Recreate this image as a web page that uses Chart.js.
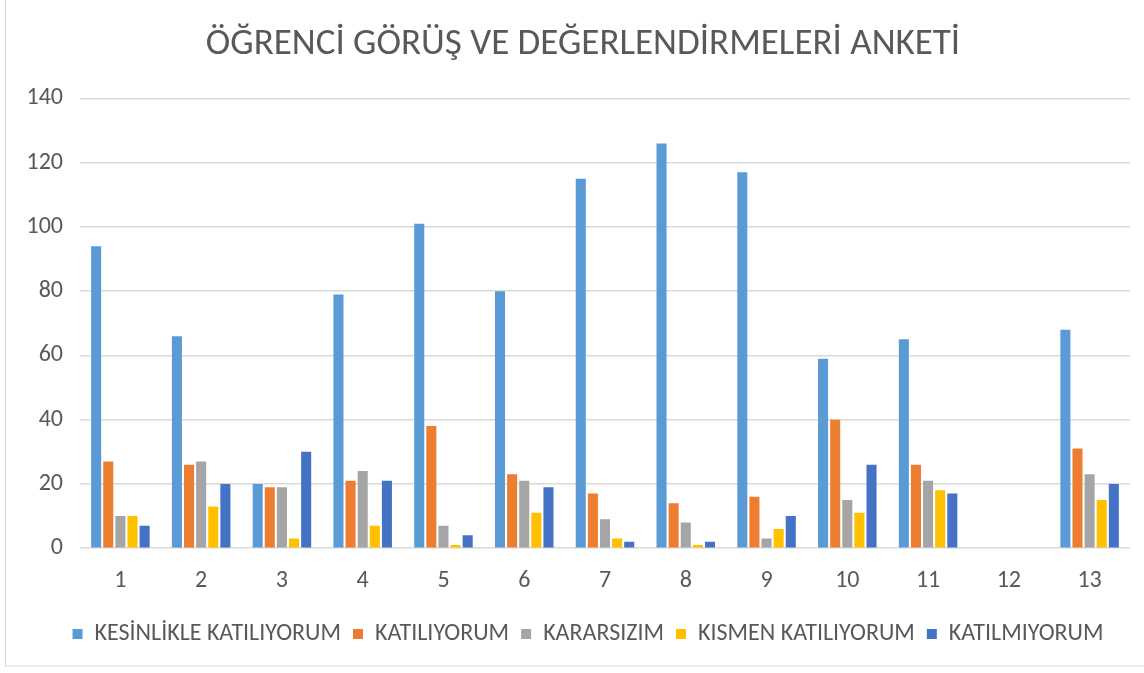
<!DOCTYPE html>
<html>
<head>
<meta charset="utf-8">
<script src="https://cdn.jsdelivr.net/npm/chart.js@4"></script>
<style>
html,body{margin:0;padding:0;background:#fff;}
#wrap{position:relative;width:1144px;height:673px;}
</style>
</head>
<body>
<div id="wrap"><canvas id="c" width="1144" height="673"></canvas></div>
<script>
const categories = ["1","2","3","4","5","6","7","8","9","10","11","12","13"];
const seriesNames = ["KESİNLİKLE KATILIYORUM","KATILIYORUM","KARARSIZIM","KISMEN KATILIYORUM","KATILMIYORUM"];
const kesinlikleKatiliyorum = [94,66,20,79,101,80,115,126,117,59,65,0,68];
const katiliyorum = [27,26,19,21,38,23,17,14,16,40,26,0,31];
const kararsizim = [10,27,19,24,7,21,9,8,3,15,21,0,23];
const kismenKatiliyorum = [10,13,3,7,1,11,3,1,6,11,18,0,15];
const katilmiyorum = [7,20,30,21,4,19,2,2,10,26,17,0,20];
const yTicks = [0,20,40,60,80,100,120,140];
const title = "ÖĞRENCİ GÖRÜŞ VE DEĞERLENDİRMELERİ ANKETİ";

const colors = ["#5B9BD5","#ED7D31","#A5A5A5","#FFC000","#4472C4"];
const values = [kesinlikleKatiliyorum,katiliyorum,kararsizim,kismenKatiliyorum,katilmiyorum];
const FONT = "Carlito, Lato, 'Open Sans', sans-serif";

const framePlugin = {
  id:'frame',
  afterLayout(chart){
    // centre title and legend on the framed chart box, as in the original
    if (chart.titleBlock) chart.titleBlock.left += 36;
    if (chart.legend) chart.legend.left += 46;
  },
  afterDraw(chart){
    const ctx = chart.ctx;
    ctx.save();
    ctx.strokeStyle = '#d9d9d9';
    ctx.lineWidth = 1;
    ctx.strokeRect(5.5, -1, 1150, 667);
    ctx.restore();
  }
};

new Chart(document.getElementById('c'), {
  type:'bar',
  data:{
    labels:categories,
    datasets: seriesNames.map((n,i)=>({
      label:n,
      data:values[i],
      backgroundColor:colors[i],
      borderWidth:0,
      categoryPercentage:0.75,
      barPercentage:0.83
    }))
  },
  options:{
    responsive:false,
    animation:false,
    layout:{padding:{left:0,right:14,top:0,bottom:17}},
    plugins:{
      title:{display:true,text:title,color:'#595959',font:{family:FONT,size:37,weight:'normal'},padding:{top:23,bottom:31}},
      legend:{position:'bottom',labels:{color:'#595959',font:{family:FONT,size:24},boxWidth:10,boxHeight:10,padding:12}},
      tooltip:{enabled:false}
    },
    scales:{
      x:{
        grid:{display:false,drawTicks:false},
        border:{display:false},
        ticks:{color:'#595959',font:{family:FONT,size:24},padding:18},
        afterFit(scale){scale.height -= 3;}
      },
      y:{
        min:0,max:140,
        afterBuildTicks(scale){scale.ticks = yTicks.map(v=>({value:v}));},
        afterFit(scale){scale.width = 80;},
        grid:{color:'#d9d9d9',lineWidth:1.6,drawTicks:false},
        border:{display:false},
        ticks:{color:'#595959',font:{family:FONT,size:24},padding:17}
      }
    }
  },
  plugins:[framePlugin]
});
</script>
</body>
</html>
